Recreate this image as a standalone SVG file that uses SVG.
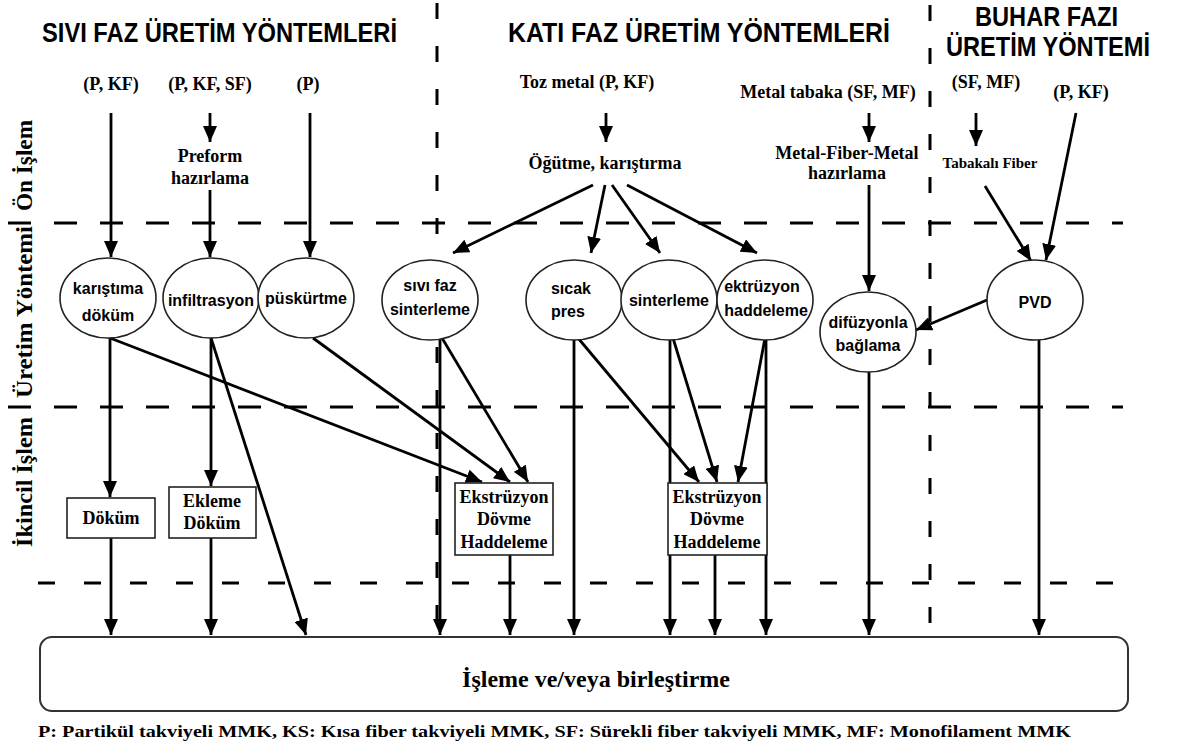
<svg xmlns="http://www.w3.org/2000/svg" width="1181" height="749" viewBox="0 0 1181 749">
  <defs>
    <marker id="arrow" viewBox="0 0 16 14" refX="16" refY="7" markerWidth="16" markerHeight="14" markerUnits="userSpaceOnUse" orient="auto">
      <path d="M0,0 L16,7 L0,14 z" fill="#000"/>
    </marker>
    <style>
      .title { font-family: "Liberation Sans", Arial, sans-serif; font-weight: bold; font-size: 28px; fill: #000; }
      .side { font-family: "Liberation Serif", "Times New Roman", serif; font-weight: bold; font-size: 23px; fill: #000; }
      .lbl { font-family: "Liberation Serif", "Times New Roman", serif; font-weight: bold; font-size: 18px; fill: #000; text-anchor: middle; }
      .small { font-size: 15px; }
      .ell { font-family: "Liberation Sans", Arial, sans-serif; font-weight: bold; font-size: 16px; fill: #000; text-anchor: middle; }
      .hdash { stroke: #000; stroke-width: 3; stroke-dasharray: 23 23; fill: none; }
      .hdash2 { stroke: #000; stroke-width: 3; stroke-dasharray: 17 29; fill: none; }
      .vdash { stroke: #000; stroke-width: 3; stroke-dasharray: 16 27; fill: none; }
      .conn path { stroke: #000; stroke-width: 2.8; fill: none; }
      .arr { marker-end: url(#arrow); }
      .node ellipse { fill: #fff; stroke: #222; stroke-width: 1.6; }
      .node rect { fill: #fff; stroke: #222; stroke-width: 1.6; }
    </style>
  </defs>

  <rect width="1181" height="749" fill="#fff"/>

  <!-- section titles -->
  <g id="titles">
    <text class="title" x="42" y="42" textLength="355" lengthAdjust="spacingAndGlyphs">SIVI FAZ ÜRETİM YÖNTEMLERİ</text>
    <text class="title" x="508" y="42" textLength="382" lengthAdjust="spacingAndGlyphs">KATI FAZ ÜRETİM YÖNTEMLERİ</text>
    <text class="title" x="975" y="26" textLength="143" lengthAdjust="spacingAndGlyphs">BUHAR FAZI</text>
    <text class="title" x="946" y="56" textLength="204" lengthAdjust="spacingAndGlyphs">ÜRETİM YÖNTEMİ</text>
  </g>

  <!-- stage labels on the left -->
  <g id="stages">
    <text class="side" transform="translate(32,211) rotate(-90)" textLength="91" lengthAdjust="spacingAndGlyphs">Ön İşlem</text>
    <text class="side" transform="translate(32,398) rotate(-90)" textLength="172" lengthAdjust="spacingAndGlyphs">Üretim Yöntemi</text>
    <text class="side" transform="translate(32,547) rotate(-90)" textLength="130" lengthAdjust="spacingAndGlyphs">İkincil İşlem</text>
  </g>

  <!-- stage separators -->
  <g id="separators">
    <line class="hdash" x1="8" y1="223" x2="1123" y2="223"/>
    <line class="hdash" x1="8" y1="407" x2="1123" y2="407"/>
    <line class="hdash2" x1="38" y1="583" x2="1123" y2="583"/>
    <line class="vdash" x1="437" y1="3" x2="437" y2="636"/>
    <line class="vdash" x1="930" y1="5" x2="930" y2="625"/>
  </g>

  <!-- input labels -->
  <g id="inputs">
    <text class="lbl" x="111" y="90">(P, KF)</text>
    <text class="lbl" x="210" y="90">(P, KF, SF)</text>
    <text class="lbl" x="308" y="90">(P)</text>
    <text class="lbl" x="587" y="88">Toz metal (P, KF)</text>
    <text class="lbl" x="828" y="98">Metal tabaka (SF, MF)</text>
    <text class="lbl" x="986" y="88">(SF, MF)</text>
    <text class="lbl" x="1081" y="98">(P, KF)</text>
  </g>

  <g id="connectors" class="conn">
    <!-- pre-processing -->
    <path class="arr" d="M111,113 V257"/>
    <path class="arr" d="M210,113 V142"/>
    <path class="arr" d="M210,190 V257"/>
    <path class="arr" d="M310,113 V257"/>
    <path class="arr" d="M606,113 V142"/>
    <path class="arr" d="M593,185 L453,253"/>
    <path class="arr" d="M605,185 L591,253"/>
    <path class="arr" d="M612,185 L660,253"/>
    <path class="arr" d="M627,185 L757,253"/>
    <path class="arr" d="M869,113 V142"/>
    <path class="arr" d="M869,185 V291"/>
    <path class="arr" d="M976,113 V146"/>
    <path class="arr" d="M985,186 L1031,261"/>
    <path class="arr" d="M1076,113 L1046,260"/>
    <path class="arr" d="M987,300 L916,330"/>
    <!-- production to secondary processing -->
    <path class="arr" d="M110,338 V497"/>
    <path class="arr" d="M110,338 L482,482"/>
    <path class="arr" d="M211,338 V486"/>
    <path class="arr" d="M211,338 L306,635"/>
    <path class="arr" d="M313,338 L510,482"/>
    <path class="arr" d="M440,338 V635"/>
    <path class="arr" d="M442,338 L528,482"/>
    <path class="arr" d="M574,338 V635"/>
    <path class="arr" d="M578,338 L699,482"/>
    <path class="arr" d="M670,338 V635"/>
    <path class="arr" d="M673,338 L717,482"/>
    <path class="arr" d="M766,338 V635"/>
    <path class="arr" d="M765,338 L738,482"/>
    <path class="arr" d="M869,372 V635"/>
    <path class="arr" d="M1039,340 V635"/>
    <!-- secondary processing to final step -->
    <path class="arr" d="M111,538 V635"/>
    <path class="arr" d="M211,538 V635"/>
    <path class="arr" d="M510,555 V635"/>
    <path class="arr" d="M715,555 V635"/>
  </g>

  <!-- pre-processing steps -->
  <g id="preform">
    <text class="lbl" x="210" y="162">Preform</text>
    <text class="lbl" x="210" y="184">hazırlama</text>
  </g>
  <g id="ogutme">
    <text class="lbl" x="605" y="169">Öğütme, karıştırma</text>
  </g>
  <g id="mfm">
    <text class="lbl" x="847" y="159">Metal-Fiber-Metal</text>
    <text class="lbl" x="847" y="179">hazırlama</text>
  </g>
  <g id="tabakali">
    <text class="lbl small" x="990" y="168">Tabakalı Fiber</text>
  </g>

  <!-- production methods -->
  <g id="karistirma" class="node">
    <ellipse cx="108" cy="298" rx="48" ry="40"/>
    <text class="ell" x="108" y="294">karıştıma</text>
    <text class="ell" x="108" y="321">döküm</text>
  </g>
  <g id="infiltrasyon" class="node">
    <ellipse cx="211" cy="298" rx="48" ry="40"/>
    <text class="ell" x="211" y="306">infiltrasyon</text>
  </g>
  <g id="puskurtme" class="node">
    <ellipse cx="306" cy="298" rx="48" ry="40"/>
    <text class="ell" x="306" y="304">püskürtme</text>
  </g>
  <g id="sivifaz" class="node">
    <ellipse cx="430" cy="300" rx="48" ry="40"/>
    <text class="ell" x="430" y="291">sıvı faz</text>
    <text class="ell" x="430" y="315">sinterleme</text>
  </g>
  <g id="sicakpres" class="node">
    <ellipse cx="574" cy="300" rx="48" ry="40"/>
    <text class="ell" x="571" y="294">sıcak</text>
    <text class="ell" x="568" y="317">pres</text>
  </g>
  <g id="sinterleme" class="node">
    <ellipse cx="669" cy="300" rx="48" ry="40"/>
    <text class="ell" x="669" y="306">sinterleme</text>
  </g>
  <g id="ektruzyon" class="node">
    <ellipse cx="765" cy="300" rx="48" ry="40"/>
    <text class="ell" x="762" y="292">ektrüzyon</text>
    <text class="ell" x="766" y="316">haddeleme</text>
  </g>
  <g id="difuzyon" class="node">
    <ellipse cx="868" cy="332" rx="48" ry="40"/>
    <text class="ell" x="868" y="328">difüzyonla</text>
    <text class="ell" x="868" y="351">bağlama</text>
  </g>
  <g id="pvd" class="node">
    <ellipse cx="1035" cy="300" rx="48" ry="40"/>
    <text class="ell" x="1035" y="308">PVD</text>
  </g>

  <!-- secondary processing -->
  <g id="dokum" class="node">
    <rect x="67" y="498" width="88" height="40"/>
    <text class="lbl" x="111" y="524">Döküm</text>
  </g>
  <g id="ekleme" class="node">
    <rect x="169" y="487" width="87" height="51"/>
    <text class="lbl" x="212" y="507">Ekleme</text>
    <text class="lbl" x="212" y="529">Döküm</text>
  </g>
  <g id="ekstruzyon1" class="node">
    <rect x="455" y="483" width="98" height="72"/>
    <text class="lbl" x="504" y="503">Ekstrüzyon</text>
    <text class="lbl" x="504" y="525">Dövme</text>
    <text class="lbl" x="504" y="548">Haddeleme</text>
  </g>
  <g id="ekstruzyon2" class="node">
    <rect x="668" y="483" width="99" height="72"/>
    <text class="lbl" x="717" y="503">Ekstrüzyon</text>
    <text class="lbl" x="717" y="525">Dövme</text>
    <text class="lbl" x="717" y="548">Haddeleme</text>
  </g>

  <!-- final step -->
  <g id="isleme">
    <rect x="40" y="637" width="1088" height="74" rx="12" ry="12" fill="#fff" stroke="#333" stroke-width="2"/>
    <text class="lbl" x="596" y="687" style="font-size:24px">İşleme ve/veya birleştirme</text>
  </g>

  <!-- legend -->
  <text class="lbl" x="38" y="737" style="text-anchor:start;font-size:17px" textLength="1033" lengthAdjust="spacingAndGlyphs">P: Partikül takviyeli MMK, KS: Kısa fiber takviyeli MMK, SF: Sürekli fiber takviyeli MMK, MF: Monofilament MMK</text>
</svg>
